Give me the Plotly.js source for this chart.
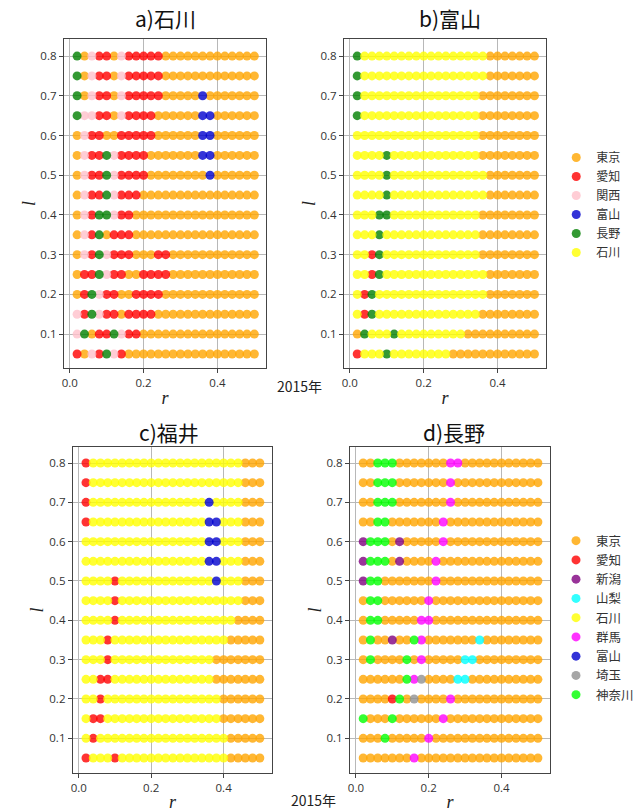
<!DOCTYPE html>
<html><head><meta charset="utf-8">
<script src="https://cdn.plot.ly/plotly-3.0.1.min.js"></script>
<style>body{margin:0;background:#fff}</style></head>
<body><div id="chart" style="width:639px;height:812px"></div>
<script>
// r (columns) and l (rows) grid values
const rValues = [0.02,0.04,0.06,0.08,0.10,0.12,0.14,0.16,0.18,0.20,0.22,0.24,0.26,0.28,0.30,0.32,0.34,0.36,0.38,0.40,0.42,0.44,0.46,0.48,0.50];
const lValues = [0.80,0.75,0.70,0.65,0.60,0.55,0.50,0.45,0.40,0.35,0.30,0.25,0.20,0.15,0.10,0.05];

// category codes
const codeNames = {T:'東京',A:'愛知',K:'関西',M:'富山',N:'長野',I:'石川',G:'新潟',Y:'山梨',U:'群馬',S:'埼玉',W:'神奈川'};
const catColors = {'東京':'#FFA500','愛知':'#FF0000','関西':'#FFC0CB','富山':'#0000CD','長野':'#008000','石川':'#FFFF00',
  '新潟':'#800080','山梨':'#00FFFF','群馬':'#FF00FF','埼玉':'#909090','神奈川':'#00FF00'};
const legendTop = ['東京','愛知','関西','富山','長野','石川'];
const legendBottom = ['東京','愛知','新潟','山梨','石川','群馬','富山','埼玉','神奈川'];

// each string = one row (l from 0.8 down to 0.05), one char per r column
const panelA = [
 'NTKAATKAAAAATTTTTTTTTTTTT',
 'NTKAATKAAAAATTTTTTTTTTTTT',
 'NTKAATKAAAAATTTTTMTTTTTTT',
 'NKKAATKAAAATTTTTTMMTTTTTT',
 'TKAATTAAAAATTTTTTMMTTTTTT',
 'TKAANKAAAATTTTTTTMMTTTTTT',
 'TKAANKAAAATTTTTTTTMTTTTTT',
 'TKAANKAAATTTTTTTTTTTTTTTT',
 'TKANNKAATTTTTTTTTTTTTTTTT',
 'TKANTAAATTTTTTTTTTTTTTTTT',
 'TKANKAAATTTAATTTTTTTTTTTT',
 'TAANKAATTAAAATTTTTTTTTTTT',
 'TANKAATTAAAATTTTTTTTTTTTT',
 'KANKAATAAAATTTTTTTTTTTTTT',
 'KNTAANKAATTTTTTTTTTTTTTTT',
 'ATKANKATTTTTTTTTTTTTTTTTT'
];
const panelB = [
 'NIIIIIIIIIIIIIIIIITTTTTTT',
 'NIIIIIIIIIIIIIIIIITTTTTTT',
 'NIIIIIIIIIIIIIIIITTTTTTTT',
 'NIIIIIIIIIIIIIIIITTTTTTTT',
 'IIIIIIIIIIIIIIIIITTTTTTTT',
 'IIIINIIIIIIIIIIIITTTTTTTT',
 'IIIINIIIIIIIIIIIIITTTTTTT',
 'IIIINIIIIIIIIIIIIITTTTTTT',
 'IIINNIIIIIIIIIIIITTTTTTTT',
 'IIINIIIIIIIIIIIIITTTTTTTT',
 'IIANIIIIIIIIIIIIITTTTTTTT',
 'IIANIIIIIIIIIIIIIITTTTTTT',
 'IANIIIIIIIIIIIIIIITTTTTTT',
 'IANIIIIIIIIIIIIIITTTTTTTT',
 'TNIIINIIIIIIIIITTTTTTTTTT',
 'AIIINIIIIIIIITTTTTTTTTTTT'
];
const panelC = [
 'AIIIIIIIIIIIIIIIIIIIIITTT',
 'AIIIIIIIIIIIIIIIIIIIIITTT',
 'AIIIIIIIIIIIIIIIIMIIIITTT',
 'AIIIIIIIIIIIIIIIIMMIIITTT',
 'IIIIIIIIIIIIIIIIIMMIIITTT',
 'IIIIIIIIIIIIIIIIIMMIIITTT',
 'IIIIAIIIIIIIIIIIIIMIIITTT',
 'IIIIAIIIIIIIIIIIIIIIIITTT',
 'IIIIAIIIIIIIIIIIIIIIITTTT',
 'IIIAIIIIIIIIIIIIIIIITTTTT',
 'IIIAIIIIIIIIIIIIIITTTTTTT',
 'IIAAIIIIIIIIIIIIIITTTTTTT',
 'IIAIIIIIIIIIIIIIIIITTTTTT',
 'IAAIIIIIIIIIIIIIIIITTTTTT',
 'IAIIIIIIIIIIIIIIIIIITTTTT',
 'AIIIAIIIIIIIIIIIIIIITTTTT'
];
const panelD = [
 'TTWWWTTTTTTTUUTTTTTTTTTTT',
 'TTWWWTTTTTTTUTTTTTTTTTTTT',
 'TTWWWTTTTTTTUTTTTTTTTTTTT',
 'TTWWTTTTTTTUTTTTTTTTTTTTT',
 'GWWWTGTTTTTUTTTTTTTTTTTTT',
 'GWWWTGTTTTUTTTTTTTTTTTTTT',
 'GWWTTTTTTTUTTTTTTTTTTTTTT',
 'TWWTTTTTTUTTTTTTTTTTTTTTT',
 'TWWTTTTTUUTTTTTTTTTTTTTTT',
 'TWTTGTTWUTTTTTTTYTTTTTTTT',
 'TWTTTTWTUTTTTTYYTTTTTTTTT',
 'TTTTTTWUSTTTTYYTTTTTTTTTT',
 'TTTTAWTSTTTTUTTTTTTTTTTTT',
 'WTTTWTTTTTTUTTTTTTTTTTTTT',
 'TTTWTTTTTUTTTTTTTTTTTTTTT',
 'TTTTTTTUTTTTTTTTTTTTTTTTT'
];

const traces = [];
function addPanel(rows, xa, ya, legendId, order, shown) {
  order.forEach((name, rank) => {
    const xs = [], ys = [];
    rows.forEach((row, i) => {
      for (let j = 0; j < row.length; j++) {
        if (codeNames[row[j]] === name) { xs.push(rValues[j]); ys.push(lValues[i]); }
      }
    });
    if (!xs.length) return;
    const first = !shown.has(name);
    shown.add(name);
    traces.push({
      type: 'scatter', mode: 'markers', x: xs, y: ys, xaxis: xa, yaxis: ya,
      name: name, legend: legendId, showlegend: first, legendrank: rank + 1,
      marker: {color: catColors[name], size: 9, opacity: 0.8, line: {width: 0}},
      hoverinfo: 'x+y+name'
    });
  });
}
const shownTop = new Set(), shownBottom = new Set();
addPanel(panelA, 'x', 'y', 'legend', legendTop, shownTop);
addPanel(panelB, 'x2', 'y2', 'legend', legendTop, shownTop);
addPanel(panelC, 'x3', 'y3', 'legend2', legendBottom, shownBottom);
addPanel(panelD, 'x4', 'y4', 'legend2', legendBottom, shownBottom);

const W = 639, H = 812;
const px = (a, b) => [a / W, b / W];
const py = (top, bottom) => [(H - bottom) / H, (H - top) / H];

const xTickVals = [0, 0.2, 0.4], xTickText = ['0.0', '0.2', '0.4'];
const yTickVals = [0.1, 0.2, 0.3, 0.4, 0.5, 0.6, 0.7, 0.8], yTickText = ['0.1','0.2','0.3','0.4','0.5','0.6','0.7','0.8'];
const tickFont = {family: 'Open Sans, sans-serif', size: 11.5, color: '#333'};
const italicFont = {family: 'Liberation Serif, serif', size: 18, color: '#222'};

function xAxis(domain, range, anchor) {
  return {domain, range, anchor, tickvals: xTickVals, ticktext: xTickText, showgrid: true, gridcolor: '#b8b8b8', gridwidth: 1,
    zeroline: false, showline: true, linecolor: '#444', linewidth: 1, mirror: true, ticks: 'outside', ticklen: 4, tickcolor: '#444',
    tickfont: tickFont, title: {text: '<i>r</i>', font: italicFont, standoff: 2}};
}
function yAxis(domain, range, anchor) {
  return {domain, range, anchor, tickvals: yTickVals, ticktext: yTickText, showgrid: true, gridcolor: '#b8b8b8', gridwidth: 1,
    zeroline: false, showline: true, linecolor: '#444', linewidth: 1, mirror: true, ticks: 'outside', ticklen: 4, tickcolor: '#444',
    tickfont: tickFont, title: {text: '<i>l</i>', font: italicFont, standoff: 0}};
}

const titleFont = {family: 'Noto Sans CJK JP, sans-serif', size: 21, color: '#111'};
const ann = (text, x, y, font) => ({text, x: x / W, y: (H - y) / H, xref: 'paper', yref: 'paper', xanchor: 'center', yanchor: 'middle', showarrow: false, font});
const yearFont = {family: 'Noto Sans CJK JP, sans-serif', size: 14, color: '#222'};
const layout = {
  width: W, height: H, margin: {l: 0, r: 0, t: 0, b: 0},
  paper_bgcolor: '#fff', plot_bgcolor: '#fff', showlegend: true,
  xaxis: xAxis(px(64, 267), [-0.016, 0.532], 'y'),
  yaxis: yAxis(py(39, 368), [0.0147, 0.843], 'x'),
  xaxis2: xAxis(px(345, 548), [-0.016, 0.532], 'y2'),
  yaxis2: yAxis(py(39, 368), [0.0147, 0.843], 'x2'),
  xaxis3: xAxis(px(73, 273), [-0.0165, 0.534], 'y3'),
  yaxis3: yAxis(py(447, 773), [0.0118, 0.8407], 'x3'),
  xaxis4: xAxis(px(351, 552), [-0.0165, 0.534], 'y4'),
  yaxis4: yAxis(py(447, 773), [0.0118, 0.8407], 'x4'),
  legend: {x: 558 / W, y: (H - 143) / H, xanchor: 'left', yanchor: 'top', bgcolor: 'rgba(0,0,0,0)',
    font: {family: 'Noto Sans CJK JP, sans-serif', size: 12, color: '#333'}, tracegroupgap: 0, itemwidth: 30},
  legend2: {x: 558 / W, y: (H - 526) / H, xanchor: 'left', yanchor: 'top', bgcolor: 'rgba(0,0,0,0)',
    font: {family: 'Noto Sans CJK JP, sans-serif', size: 12.5, color: '#333'}, tracegroupgap: 0, itemwidth: 30},
  annotations: [
    ann('a)石川', 166, 18, titleFont),
    ann('b)富山', 451, 18, titleFont),
    ann('c)福井', 170, 432, titleFont),
    ann('d)長野', 455, 432, titleFont),
    ann('2015年', 300, 386, yearFont),
    ann('2015年', 314, 800, yearFont)
  ]
};
Plotly.newPlot('chart', traces, layout, {displayModeBar: false, responsive: false});
</script>
</body></html>
